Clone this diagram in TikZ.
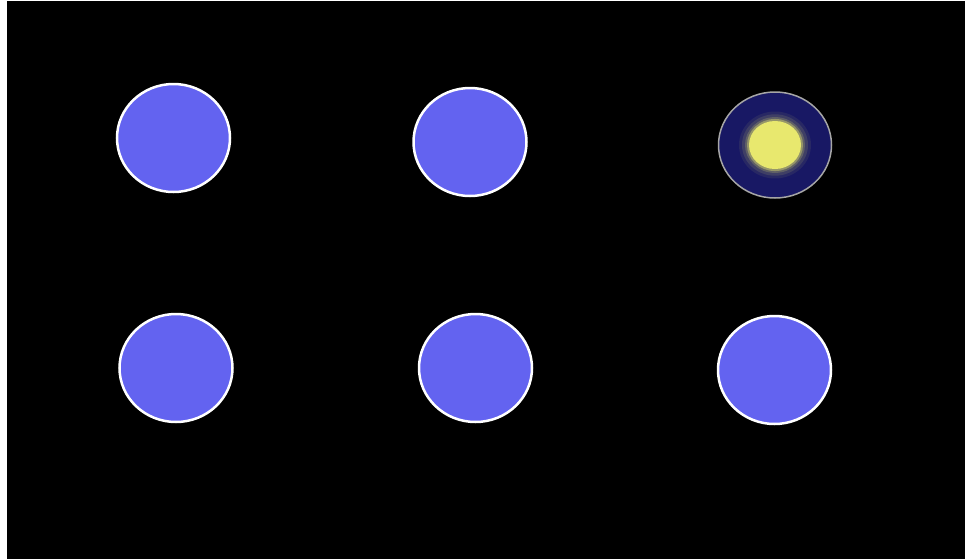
\documentclass[tikz,border=0pt]{standalone}
\begin{document}
\begin{tikzpicture}[x=0.02cm,y=-0.02cm,
  dot/.style={draw=white,line width=0.05cm,fill=dotblue},
]
\definecolor{dotblue}{RGB}{99,99,240}
\definecolor{navy}{RGB}{24,24,100}
\definecolor{glowy}{RGB}{232,232,110}
\fill[white] (0,0) rectangle (965,559);
\fill[black] (7,1) rectangle (965,559);
\useasboundingbox (0,0) rectangle (965,559);
\path[dot] (173.5,138) ellipse [x radius=56.5,y radius=54] coordinate (c1);
\path[dot] (470,142) ellipse [x radius=56.5,y radius=54] coordinate (c2);
\path[dot] (176,368) ellipse [x radius=56.5,y radius=54] coordinate (c4);
\path[dot] (475.5,368) ellipse [x radius=56.5,y radius=54] coordinate (c5);
\path[dot] (774.5,370) ellipse [x radius=56.5,y radius=54] coordinate (c6);
% highlighted one
\path[draw=gray!70,line width=0.03cm,fill=navy] (775,145) ellipse [x radius=56.5,y radius=53];
\foreach \r/\o in {36/0.08,33/0.12,30/0.2,28/0.4} {
  \fill[glowy,opacity=\o] (775,145) ellipse [x radius=\r,y radius=\r*0.93];
}
\fill[glowy] (775,145) ellipse [x radius=26,y radius=24];
\end{tikzpicture}
\end{document}
